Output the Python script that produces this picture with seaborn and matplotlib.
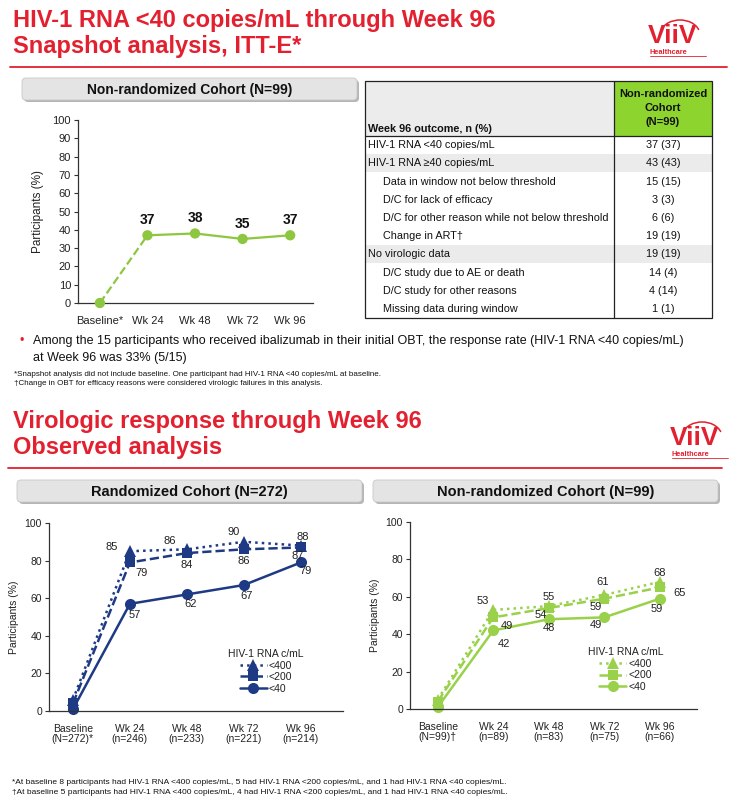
import numpy as np
import pandas as pd
import matplotlib
matplotlib.use('Agg')
import matplotlib.pyplot as plt
from matplotlib.patches import Rectangle, FancyBboxPatch, Arc
import seaborn as sns

# style
sns.set_theme(style='white')
plt.rcParams['font.family'] = ['Liberation Sans', 'DejaVu Sans']
NARROW = ['Liberation Sans Narrow', 'Liberation Sans', 'DejaVu Sans']

# --- data: snapshot analysis ---
snap_ticks = ['Baseline*', 'Wk 24', 'Wk 48', 'Wk 72', 'Wk 96']
snap_lt40 = [0, 37, 38, 35, 37]

# --- data: week 96 outcome table ---
table_labels = ['HIV-1 RNA <40 copies/mL', 'HIV-1 RNA \u226540 copies/mL',
                'Data in window not below threshold', 'D/C for lack of efficacy',
                'D/C for other reason while not below threshold', 'Change in ART\u2020',
                'No virologic data', 'D/C study due to AE or death',
                'D/C study for other reasons', 'Missing data during window']
table_values = ['37 (37)', '43 (43)', '15 (15)', '3 (3)', '6 (6)', '19 (19)',
                '19 (19)', '14 (4)', '4 (14)', '1 (1)']
table_level = [0, 0, 1, 1, 1, 1, 0, 1, 1, 1]

# --- data: observed analysis ---
rand_ticks = ['Baseline\n(N=272)*', 'Wk 24\n(n=246)', 'Wk 48\n(n=233)',
              'Wk 72\n(n=221)', 'Wk 96\n(n=214)']
rand_lt400 = [6, 85, 86, 90, 88]
rand_lt200 = [4, 79, 84, 86, 87]
rand_lt40 = [1, 57, 62, 67, 79]

nonrand_ticks = ['Baseline\n(N=99)\u2020', 'Wk 24\n(n=89)', 'Wk 48\n(n=83)',
                 'Wk 72\n(n=75)', 'Wk 96\n(n=66)']
nonrand_lt400 = [5, 53, 55, 61, 68]
nonrand_lt200 = [4, 49, 54, 59, 65]
nonrand_lt40 = [1, 42, 48, 49, 59]

series_names = ['<400', '<200', '<40']

RED = '#E3202F'
NAVY = '#1E3A84'
GREEN = '#8DC63F'
GREEN2 = '#99D14B'
TGREEN = '#8DD42E'
AXC = '#333333'

W, H = 736, 809
fig = plt.figure(figsize=(W / 100, H / 100), dpi=100)

# overlay in pixel coordinates for the slide decorations
bg = fig.add_axes([0, 0, 1, 1], zorder=0)
bg.set_xlim(0, W)
bg.set_ylim(H, 0)
bg.axis('off')


def px_axes(x0, y0, x1, y1):
    ax = fig.add_axes([x0 / W, 1 - y1 / H, (x1 - x0) / W, (y1 - y0) / H], zorder=2)
    ax.patch.set_alpha(0)
    return ax


def header_box(x0, y0, x1, y1, text, size):
    shadow = FancyBboxPatch((x0 + 2, y0 + 2), x1 - x0, y1 - y0,
                            boxstyle='round,pad=0,rounding_size=4',
                            fc='#b5b5b5', ec='none')
    box = FancyBboxPatch((x0, y0), x1 - x0, y1 - y0,
                         boxstyle='round,pad=0,rounding_size=4',
                         fc='#e4e4e4', ec='#c8c8c8', lw=0.6)
    bg.add_patch(shadow)
    bg.add_patch(box)
    bg.text((x0 + x1) / 2, (y0 + y1) / 2 + 0.5, text, ha='center', va='center',
            fontsize=size, fontweight='bold', color='#111111')


def logo(x, y):
    bg.text(x, y, 'ViiV', ha='left', va='center', fontsize=19, fontweight='bold',
            color=RED, family=NARROW)
    bg.add_patch(Arc((x + 32, y - 1), 40, 30, theta1=195, theta2=345, color=RED, lw=1.1))
    bg.text(x + 2, y + 16, 'Healthcare', ha='left', va='center', fontsize=5.3,
            fontweight='bold', color=RED)
    bg.plot([x + 2, x + 58], [y + 20, y + 20], color=RED, lw=0.6)


def style_axes(ax, ticks, xlim, ystep, fsize):
    ax.set_xlim(*xlim)
    ax.set_ylim(0, 100)
    ax.set_xticks(range(len(ticks)))
    ax.set_xticklabels(ticks, fontsize=fsize, color='#222222', linespacing=1.1)
    ax.set_yticks(np.arange(0, 101, ystep))
    ax.tick_params(axis='y', left=True, length=3, width=0.8, color=AXC,
                   labelsize=fsize, labelcolor='#222222', pad=2)
    ax.tick_params(axis='x', bottom=False, pad=3)
    sns.despine(ax=ax)
    for s in ['left', 'bottom']:
        ax.spines[s].set_color(AXC)
        ax.spines[s].set_linewidth(0.9)
    ax.grid(False)


# ---------------- top slide ----------------
bg.text(13, 20, 'HIV-1 RNA <40 copies/mL through Week 96', ha='left', va='center',
        fontsize=17, fontweight='bold', color=RED, family=NARROW)
bg.text(13, 46, 'Snapshot analysis, ITT-E*', ha='left', va='center',
        fontsize=17, fontweight='bold', color=RED, family=NARROW)
bg.plot([10, 727], [67, 67], color=RED, lw=1.3)
logo(648, 36)

header_box(22, 78, 357, 100, 'Non-randomized Cohort (N=99)', 10)

idx = np.arange(len(snap_ticks))
ax1 = px_axes(78, 120, 313, 303)
sns.lineplot(x=idx[:2], y=snap_lt40[:2], ax=ax1, color=GREEN, linestyle='--', lw=1.6)
sns.lineplot(x=idx[1:], y=snap_lt40[1:], ax=ax1, color=GREEN, lw=1.6)
sns.scatterplot(x=idx, y=snap_lt40, ax=ax1, color=GREEN, s=55, edgecolor='none',
                zorder=3, clip_on=False)
for i, v in enumerate(snap_lt40):
    if i > 0:
        ax1.annotate(str(v), (i, v), xytext=(0, 15), textcoords='offset pixels',
                     ha='center', va='center', fontsize=10, fontweight='bold',
                     color='#111111')
style_axes(ax1, snap_ticks, (-0.46, 4.48), 10, 8)
ax1.set_ylabel('Participants (%)', fontsize=8.5, color='#222222', labelpad=6)

# table
tx0, tx1, txm = 365, 712, 614
ty0, tyh = 81, 136
rh = (318 - tyh) / len(table_labels)
bg.add_patch(Rectangle((tx0, ty0), txm - tx0, tyh - ty0, fc='#ececec', ec='none'))
bg.add_patch(Rectangle((txm, ty0), tx1 - txm, tyh - ty0, fc=TGREEN, ec='none'))
for i, (lab, val, lev) in enumerate(zip(table_labels, table_values, table_level)):
    y = tyh + i * rh
    if lab.startswith('HIV-1 RNA \u2265') or lab.startswith('No virologic'):
        bg.add_patch(Rectangle((tx0, y), tx1 - tx0, rh, fc='#ebebeb', ec='none'))
    bg.text(tx0 + 3 + 15 * lev, y + rh / 2, lab, ha='left', va='center',
            fontsize=7.8, color='#111111')
    bg.text((txm + tx1) / 2, y + rh / 2, val, ha='center', va='center',
            fontsize=7.8, color='#111111')
bg.add_patch(Rectangle((tx0, ty0), tx1 - tx0, 318 - ty0, fc='none', ec='#222222', lw=0.9))
bg.plot([txm, txm], [ty0, 318], color='#222222', lw=0.9)
bg.plot([tx0, tx1], [tyh, tyh], color='#222222', lw=0.9)
bg.text(tx0 + 3, tyh - 7, 'Week 96 outcome, n (%)', ha='left', va='center',
        fontsize=7.8, fontweight='bold', color='#111111')
bg.text((txm + tx1) / 2, 108, 'Non-randomized\nCohort\n(N=99)', ha='center',
        va='center', fontsize=8, fontweight='bold', color='#111111', linespacing=1.45)

# bullet and footnotes
bg.text(20, 341, '\u2022', ha='left', va='center', fontsize=9, color=RED)
bg.text(33, 341, 'Among the 15 participants who received ibalizumab in their initial OBT, '
        'the response rate (HIV-1 RNA <40 copies/mL)', ha='left', va='center',
        fontsize=9, color='#111111', family=NARROW)
bg.text(33, 358, 'at Week 96 was 33% (5/15)', ha='left', va='center',
        fontsize=9, color='#111111', family=NARROW)
bg.text(14, 374, '*Snapshot analysis did not include baseline. One participant had '
        'HIV-1 RNA <40 copies/mL at baseline.', ha='left', va='center',
        fontsize=5.8, color='#111111')
bg.text(14, 383, '\u2020Change in OBT for efficacy reasons were considered virologic '
        'failures in this analysis.', ha='left', va='center', fontsize=5.8, color='#111111')

# ---------------- bottom slide ----------------
bg.text(13, 421, 'Virologic response through Week 96', ha='left', va='center',
        fontsize=17, fontweight='bold', color=RED, family=NARROW)
bg.text(13, 447, 'Observed analysis', ha='left', va='center',
        fontsize=17, fontweight='bold', color=RED, family=NARROW)
bg.plot([8, 722], [468, 468], color=RED, lw=1.3)
logo(670, 438)

header_box(17, 480, 362, 502, 'Randomized Cohort (N=272)', 10.5)
header_box(373, 480, 718, 502, 'Non-randomized Cohort (N=99)', 10.5)

line_styles = [':', '--', '-']
markers = ['^', 's', 'o']

rand_offsets = [[(0, 0), (-18, 4), (-17, 8), (-10, 10), (2, 9)],
                [(0, 0), (12, -11), (0, -12), (0, -12), (-3, -9)],
                [(0, 0), (5, -11), (4, -10), (3, -11), (5, -9)]]
nonrand_offsets = [[(0, 0), (-10, 9), (0, 9), (-2, 13), (0, 9)],
                   [(0, 0), (14, -9), (-8, -7), (-9, -8), (20, -6)],
                   [(0, 0), (11, -14), (0, -9), (-8, -8), (-3, -10)]]


def observed_panel(ax, series, color, ticks, xlim, offsets, leg_anchor):
    x = np.arange(len(ticks))
    for vals, name, ls, mk, offs in zip(series, series_names, line_styles, markers, offsets):
        sns.lineplot(x=x, y=vals, ax=ax, color=color, linestyle=ls, lw=1.8,
                     marker=mk, markersize=8 if mk != 's' else 7.5, markeredgewidth=0,
                     label=name, clip_on=False)
        for i, v in enumerate(vals):
            if i > 0:
                ax.annotate(str(v), (i, v), xytext=offs[i], textcoords='offset pixels',
                            ha='center', va='center', fontsize=8, color='#222222')
    style_axes(ax, ticks, xlim, 20, 7.5)
    ax.set_ylabel('Participants (%)', fontsize=7.5, color='#222222', labelpad=4)
    leg = ax.legend(title='HIV-1 RNA c/mL', loc='upper left', bbox_to_anchor=leg_anchor,
                    frameon=False, fontsize=7.5, title_fontsize=7.5, handlelength=2.6,
                    handletextpad=0.2, labelspacing=0.15, borderaxespad=0, borderpad=0)
    leg.get_title().set_color('#222222')
    for t in leg.get_texts():
        t.set_color('#222222')


ax2 = px_axes(49, 523, 343, 711)
observed_panel(ax2, [rand_lt400, rand_lt200, rand_lt40], NAVY, rand_ticks,
               (-0.42, 4.74), rand_offsets, (0.61, 0.33))

ax3 = px_axes(410, 522, 697, 709)
observed_panel(ax3, [nonrand_lt400, nonrand_lt200, nonrand_lt40], GREEN2, nonrand_ticks,
               (-0.5, 4.67), nonrand_offsets, (0.62, 0.33))

bg.text(12, 783, '*At baseline 8 participants had HIV-1 RNA <400 copies/mL, 5 had HIV-1 RNA '
        '<200 copies/mL, and 1 had HIV-1 RNA <40 copies/mL.', ha='left', va='center',
        fontsize=6, color='#111111')
bg.text(12, 793, '\u2020At baseline 5 participants had HIV-1 RNA <400 copies/mL, 4 had HIV-1 RNA '
        '<200 copies/mL, and 1 had HIV-1 RNA <40 copies/mL.', ha='left', va='center',
        fontsize=6, color='#111111')

fig.savefig('out.png', dpi=100)
